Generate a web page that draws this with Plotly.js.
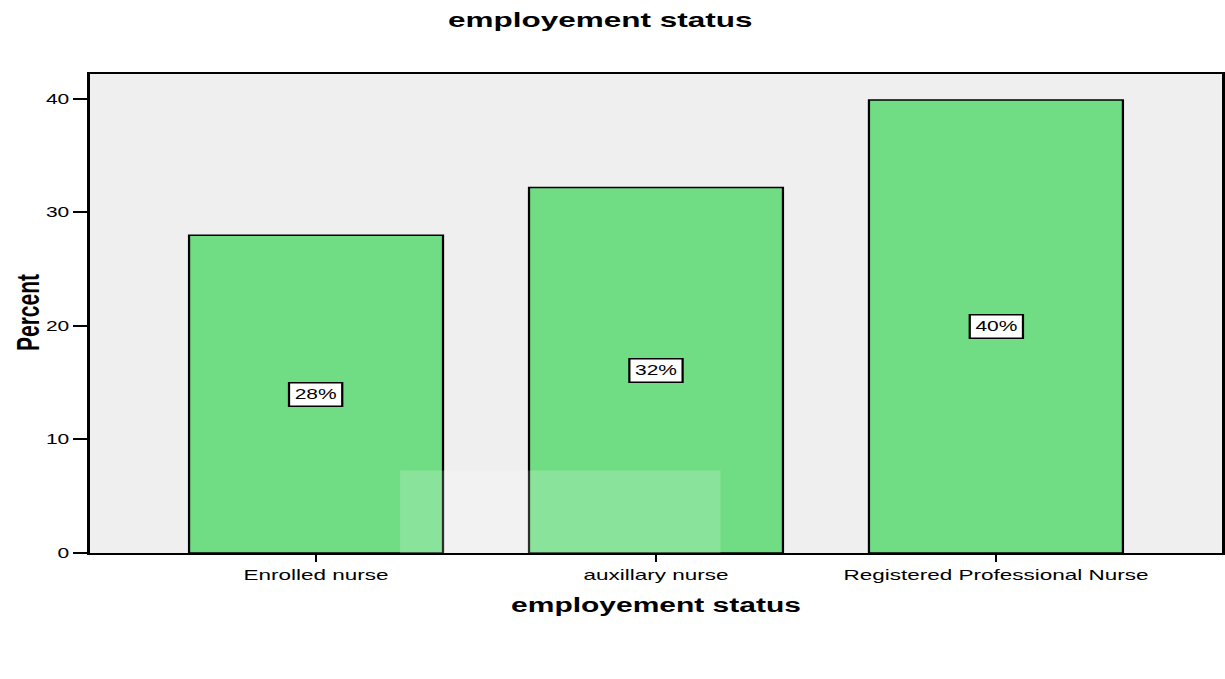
<!DOCTYPE html>
<html>
<head>
<meta charset="utf-8">
<script src="https://cdn.plot.ly/plotly-3.0.1.min.js"></script>
<style>
html,body{margin:0;padding:0;background:#fff;overflow:hidden;width:1225px;height:679px;}
#chart{width:817px;height:679px;transform:scale(1.4994,1);transform-origin:0 0;}
</style>
</head>
<body>
<div id="chart"></div>
<script>
const categories = ["Enrolled nurse", "auxillary nurse", "Registered Professional Nurse"];
const percentValues = [28.0, 32.2, 39.9];
const barLabels = ["28%", "32%", "40%"];
const yTicks = [0, 10, 20, 30, 40];

const FONT = "Arial, Liberation Sans, sans-serif";

const trace = {
  type: "bar",
  x: categories,
  y: percentValues,
  marker: {color: "#70dd84", line: {color: "#000", width: 1.5}},
  hoverinfo: "none"
};

const annotations = categories.map((c, i) => ({
  x: c, y: percentValues[i] / 2, xref: "x", yref: "y",
  text: barLabels[i], showarrow: false,
  font: {family: FONT, size: 14, color: "#000"},
  bgcolor: "#fff", bordercolor: "#000", borderwidth: 1.5, borderpad: 3
}));
annotations.push({
  text: "<b>Percent</b>", xref: "paper", yref: "paper", x: -0.0556, y: 0.501,
  xanchor: "center", yanchor: "middle", textangle: -90, showarrow: false,
  font: {family: FONT, size: 21, color: "#000"}
});

const layout = {
  width: 817, height: 679,
  margin: {l: 60, r: 2, t: 74, b: 126},
  paper_bgcolor: "#fff",
  plot_bgcolor: "#efefef",
  showlegend: false,
  bargap: 0.253,
  title: {text: "<b>employement status</b>", x: 0.49, xanchor: "center", y: 0.971, yanchor: "middle",
          font: {family: FONT, size: 21, color: "#000"}},
  xaxis: {
    type: "category", range: [-0.665, 2.665],
    showline: true, linecolor: "#000", linewidth: 2, mirror: true,
    ticks: "outside", ticklen: 7, tickwidth: 1.5, tickcolor: "#000",
    showgrid: false, zeroline: false,
    tickfont: {family: FONT, size: 15, color: "#000"},
    title: {text: "<b>employement status</b>", standoff: 16,
            font: {family: FONT, size: 20, color: "#000"}}
  },
  yaxis: {
    range: [0, 42.2], tickvals: yTicks,
    showline: true, linecolor: "#000", linewidth: 2, mirror: true,
    ticks: "outside", ticklen: 9, tickwidth: 2, tickcolor: "#000",
    showgrid: false, zeroline: false,
    tickfont: {family: FONT, size: 14, color: "#000"}
  },
  annotations: annotations,
  shapes: [{type: "rect", xref: "paper", yref: "paper", x0: 0.274, x1: 0.557, y0: 0.0, y1: 0.172,
            fillcolor: "rgba(255,255,255,0.18)", line: {width: 0}, layer: "above"}]
};

Plotly.newPlot("chart", [trace], layout, {displayModeBar: false, staticPlot: true});
</script>
</body>
</html>
